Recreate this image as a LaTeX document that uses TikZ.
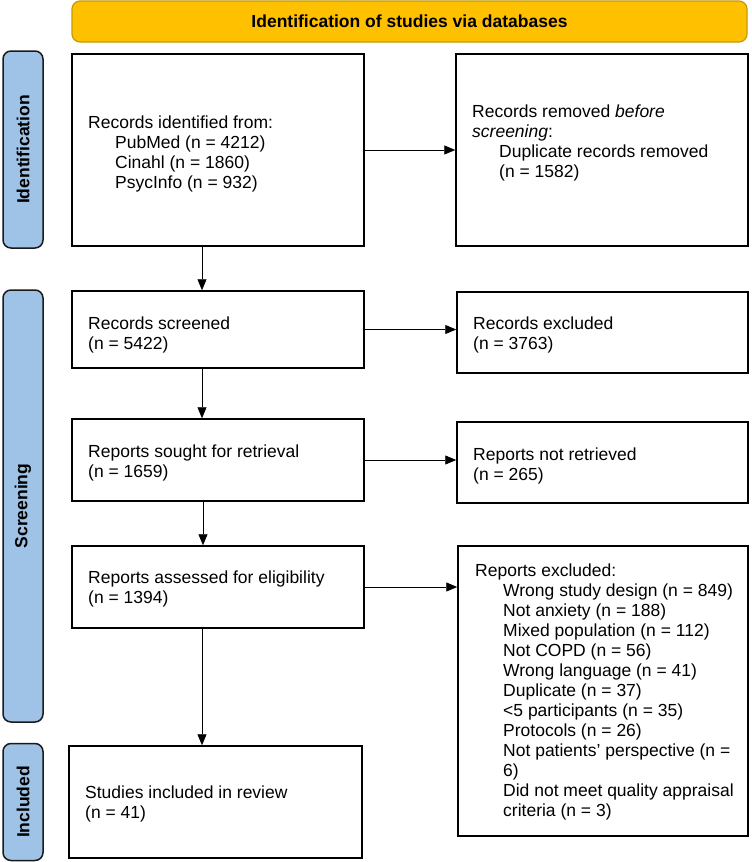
\documentclass[tikz,border=0pt]{standalone}
\usepackage{fontspec}
\setmainfont{Liberation Sans}
\usetikzlibrary{arrows.meta}
\definecolor{hdrfill}{HTML}{FFC000}
\definecolor{hdrdraw}{HTML}{C49A00}
\definecolor{lblfill}{HTML}{9FC3E7}
\definecolor{lbldraw}{HTML}{1A1A1A}
\begin{document}
\begin{tikzpicture}[x=1pt,y=-1pt,
  box/.style={draw=black, line width=1.5pt, fill=white, rectangle, inner sep=0pt},
  txt/.style={anchor=north west, inner sep=0pt, align=left, font=\fontsize{17.5}{20}\selectfont},
  lbl/.style={draw=lbldraw, fill=lblfill, line width=1.5pt, rounded corners=8pt, inner sep=0pt},
  lbltxt/.style={rotate=90, inner sep=0pt, font=\bfseries\fontsize{17.5}{20}\selectfont},
  hdr/.style={draw=hdrdraw, fill=hdrfill, line width=1.2pt, rounded corners=8pt, inner sep=0pt, font=\bfseries\fontsize{17.5}{20}\selectfont},
  arr/.style={line width=0.9pt, -{Triangle[length=11pt,width=9pt]}}
]
\useasboundingbox (0,0) rectangle (752,862);

% header
\node[hdr, minimum width=675pt, minimum height=41pt] (hdr) at (409.5,21.5) {Identification of studies via databases};

% phase labels
\node[lbl, minimum width=40pt, minimum height=197pt] (L1) at (23,149.5) {};
\node[lbltxt] (L1t) at (L1.center) {Identification};
\node[lbl, minimum width=40pt, minimum height=432pt] (L2) at (23,506) {};
\node[lbltxt] (L2t) at (L2.center) {Screening};
\node[lbl, minimum width=40pt, minimum height=117pt] (L3) at (23,802) {};
\node[lbltxt] (L3t) at (L3.center) {Included};

% boxes
\node[box, minimum width=292pt, minimum height=192pt] (A) at (218,150) {};
\node[box, minimum width=292pt, minimum height=192pt] (B) at (602,150) {};
\node[box, minimum width=292pt, minimum height=77pt] (C) at (218,329.5) {};
\node[box, minimum width=291pt, minimum height=81pt] (D) at (602.5,332.5) {};
\node[box, minimum width=292pt, minimum height=82pt] (E) at (218,460) {};
\node[box, minimum width=291pt, minimum height=81pt] (F) at (602.5,462.5) {};
\node[box, minimum width=292pt, minimum height=82pt] (G) at (218,587) {};
\node[box, minimum width=290pt, minimum height=290pt] (H) at (603,691) {};
\node[box, minimum width=293pt, minimum height=112pt] (I) at (215.5,802) {};

% texts
\node[txt] (tA) at (88,114) {\strut Records identified from:\\
  \hspace*{27pt}PubMed (n = 4212)\\
  \hspace*{27pt}Cinahl (n = 1860)\\
  \hspace*{27pt}PsycInfo (n = 932)};
\node[txt] (tB) at (472,103) {\strut Records removed \textit{before}\\
  \textit{screening}:\\
  \hspace*{27pt}Duplicate records removed\\
  \hspace*{27pt}(n = 1582)};
\node[txt] (tC) at (88,315) {\strut Records screened\\(n = 5422)};
\node[txt] (tD) at (473,315) {\strut Records excluded\\(n = 3763)};
\node[txt] (tE) at (88,443) {\strut Reports sought for retrieval\\(n = 1659)};
\node[txt] (tF) at (473,446) {\strut Reports not retrieved\\(n = 265)};
\node[txt] (tG) at (88,569) {\strut Reports assessed for eligibility\\(n = 1394)};
\node[txt] (tH) at (475,562) {\strut Reports excluded:\\
  \hspace*{28pt}Wrong study design (n = 849)\\
  \hspace*{28pt}Not anxiety (n = 188)\\
  \hspace*{28pt}Mixed population (n = 112)\\
  \hspace*{28pt}Not COPD (n = 56)\\
  \hspace*{28pt}Wrong language (n = 41)\\
  \hspace*{28pt}Duplicate (n = 37)\\
  \hspace*{28pt}<5 participants (n = 35)\\
  \hspace*{28pt}Protocols (n = 26)\\
  \hspace*{28pt}Not patients’ perspective (n =\\
  \hspace*{28pt}6)\\
  \hspace*{28pt}Did not meet quality appraisal\\
  \hspace*{28pt}criteria (n = 3)};
\node[txt] (tI) at (85,784) {\strut Studies included in review\\(n = 41)};

% connectors
\draw[arr] (A.east) -- (B.west);
\draw[arr] ([xshift=-16pt]A.south) -- ([xshift=-16pt]C.north);
\draw[arr] (C.east) -- (C.east -| D.west);
\draw[arr] ([xshift=-16pt]C.south) -- ([xshift=-16pt]E.north);
\draw[arr] (E.east) -- (E.east -| F.west);
\draw[arr] ([xshift=-15pt]E.south) -- ([xshift=-15pt]G.north);
\draw[arr] (G.east) -- (G.east -| H.west);
\draw[arr] ([xshift=-16pt]G.south) -- ([xshift=-16pt]G.south |- I.north);
\end{tikzpicture}
\end{document}
